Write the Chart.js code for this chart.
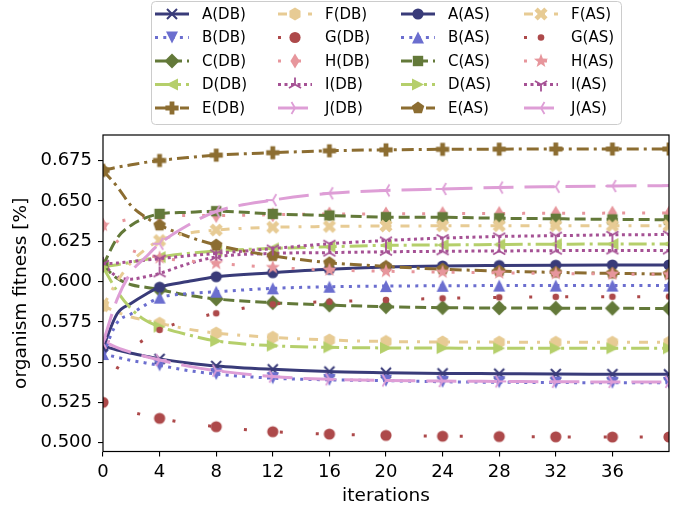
<!DOCTYPE html>
<html><head><meta charset="utf-8">
<script src="https://cdn.jsdelivr.net/npm/chart.js@4"></script>
<style>html,body{margin:0;padding:0;background:#fff}</style>
</head><body>
<canvas id="c" width="694" height="510" style="width:694px;height:510px;display:block"></canvas>
<script>
// ---- data ----
const iterations = [0, 1, 2, 3, 4, 6, 8, 12, 16, 20, 24, 28, 32, 36, 40];
const xTickValues = [0, 4, 8, 12, 16, 20, 24, 28, 32, 36];
const yTickValues = [0.500, 0.525, 0.550, 0.575, 0.600, 0.625, 0.650, 0.675];

const A_DB = [0.560, 0.5575, 0.5555, 0.5537, 0.552, 0.5495, 0.5476, 0.5455, 0.5441, 0.5434, 0.543, 0.5428, 0.5426, 0.5425, 0.5424];
const B_DB = [0.555, 0.553, 0.551, 0.5495, 0.548, 0.5448, 0.5426, 0.540, 0.539, 0.5385, 0.5378, 0.5375, 0.5373, 0.5372, 0.5371];
const C_DB = [0.610, 0.602, 0.598, 0.5965, 0.595, 0.5915, 0.5892, 0.5869, 0.5854, 0.5844, 0.5838, 0.5836, 0.5835, 0.5834, 0.5833];
const D_DB = [0.609, 0.6105, 0.612, 0.6137, 0.6152, 0.6175, 0.619, 0.6206, 0.6216, 0.6225, 0.6227, 0.623, 0.6232, 0.6233, 0.6234];
const E_DB = [0.669, 0.671, 0.6725, 0.674, 0.6752, 0.677, 0.6785, 0.680, 0.6812, 0.6818, 0.6821, 0.6822, 0.6823, 0.6823, 0.6823];
const F_DB = [0.585, 0.581, 0.578, 0.576, 0.5741, 0.5705, 0.568, 0.5654, 0.5637, 0.5628, 0.5625, 0.5624, 0.5623, 0.5623, 0.5623];
const G_DB = [0.525, 0.5215, 0.519, 0.517, 0.5151, 0.512, 0.5099, 0.5068, 0.5053, 0.5045, 0.504, 0.5038, 0.5036, 0.5035, 0.5035];
const H_DB = [0.635, 0.637, 0.639, 0.640, 0.6405, 0.641, 0.641, 0.6415, 0.642, 0.642, 0.6422, 0.6423, 0.6424, 0.6425, 0.6425];
const I_DB = [0.611, 0.603, 0.6015, 0.603, 0.6051, 0.611, 0.6153, 0.6175, 0.618, 0.6185, 0.6188, 0.619, 0.6192, 0.6193, 0.6193];
const J_DB = [0.563, 0.559, 0.556, 0.5535, 0.5513, 0.5475, 0.5447, 0.541, 0.5393, 0.5386, 0.5382, 0.538, 0.5378, 0.5377, 0.5377];

const A_AS = [0.559, 0.580, 0.5865, 0.592, 0.5965, 0.600, 0.603, 0.6055, 0.6076, 0.609, 0.6097, 0.610, 0.6102, 0.6103, 0.6103];
const B_AS = [0.555, 0.5745, 0.580, 0.5855, 0.590, 0.5925, 0.5937, 0.5958, 0.5968, 0.5972, 0.5974, 0.5975, 0.5975, 0.5975, 0.5975];
const C_AS = [0.610, 0.627, 0.635, 0.6395, 0.642, 0.643, 0.6437, 0.642, 0.641, 0.640, 0.6399, 0.6393, 0.639, 0.6386, 0.6384];
const D_AS = [0.609, 0.594, 0.583, 0.576, 0.572, 0.567, 0.5631, 0.5602, 0.5592, 0.5588, 0.5587, 0.5586, 0.5586, 0.5586, 0.5586];
const E_AS = [0.669, 0.659, 0.647, 0.640, 0.635, 0.628, 0.6227, 0.616, 0.6117, 0.6094, 0.6077, 0.6065, 0.6057, 0.6051, 0.6046];
const F_AS = [0.585, 0.600, 0.612, 0.620, 0.6255, 0.630, 0.632, 0.6337, 0.6342, 0.6345, 0.6346, 0.6347, 0.6347, 0.6347, 0.6347];
const G_AS = [0.525, 0.546, 0.558, 0.5645, 0.570, 0.576, 0.5803, 0.5859, 0.5875, 0.5886, 0.5896, 0.5902, 0.5905, 0.5906, 0.5907];
const H_AS = [0.635, 0.625, 0.6195, 0.617, 0.6148, 0.6128, 0.6113, 0.6088, 0.6072, 0.6064, 0.6059, 0.6054, 0.605, 0.6047, 0.6044];
const I_AS = [0.611, 0.6115, 0.6125, 0.6133, 0.6142, 0.616, 0.6175, 0.6205, 0.6235, 0.6255, 0.627, 0.628, 0.6285, 0.629, 0.6292];
const J_AS = [0.562, 0.589, 0.606, 0.615, 0.6235, 0.635, 0.6435, 0.6506, 0.6548, 0.6566, 0.6575, 0.6584, 0.6589, 0.6593, 0.6596];

// ---- styles ----
const COL = {A:'#393b79', B:'#6b6ecf', C:'#637939', D:'#b5cf6b', E:'#8c6d31',
             F:'#e7cb94', G:'#ad494a', H:'#e7969c', I:'#a55194', J:'#de9ed6'};
const DASH = {A:[], B:[3,5.3], C:[11,5], D:[18,5,3,5], E:[12,5,3,5],
              F:[9,9,3,9], G:[3,33], H:[3,17], I:[3,3.5], J:[30,11]};

const series = [
  {label:'A(DB)', v:A_DB, k:'A', m:'x'}, {label:'B(DB)', v:B_DB, k:'B', m:'v'},
  {label:'C(DB)', v:C_DB, k:'C', m:'D'}, {label:'D(DB)', v:D_DB, k:'D', m:'<'},
  {label:'E(DB)', v:E_DB, k:'E', m:'P'}, {label:'F(DB)', v:F_DB, k:'F', m:'h'},
  {label:'G(DB)', v:G_DB, k:'G', m:'o'}, {label:'H(DB)', v:H_DB, k:'H', m:'d'},
  {label:'I(DB)', v:I_DB, k:'I', m:'2'}, {label:'J(DB)', v:J_DB, k:'J', m:'4'},
  {label:'A(AS)', v:A_AS, k:'A', m:'o'}, {label:'B(AS)', v:B_AS, k:'B', m:'^'},
  {label:'C(AS)', v:C_AS, k:'C', m:'s'}, {label:'D(AS)', v:D_AS, k:'D', m:'>'},
  {label:'E(AS)', v:E_AS, k:'E', m:'p'}, {label:'F(AS)', v:F_AS, k:'F', m:'X'},
  {label:'G(AS)', v:G_AS, k:'G', m:'.'}, {label:'H(AS)', v:H_AS, k:'H', m:'*'},
  {label:'I(AS)', v:I_AS, k:'I', m:'1'}, {label:'J(AS)', v:J_AS, k:'J', m:'3'}
];

function drawMarker(c, type, x, y, color) {
  c.save();
  c.translate(x, y);
  c.fillStyle = color; c.strokeStyle = color; c.setLineDash([]);
  const poly = pts => { c.beginPath(); pts.forEach((p, k) => k ? c.lineTo(p[0], p[1]) : c.moveTo(p[0], p[1])); c.closePath(); c.fill(); };
  const reg = (n, r) => { const pts = []; for (let k = 0; k < n; k++) { const a = k * 2 * Math.PI / n; pts.push([r * Math.sin(a), -r * Math.cos(a)]); } poly(pts); };
  const prongs = (angles, r) => { c.lineWidth = 1.8; c.lineCap = 'butt'; c.beginPath(); angles.forEach(a => { c.moveTo(0, 0); c.lineTo(r * Math.cos(a), r * Math.sin(a)); }); c.stroke(); };
  const plus = (w, L, rot) => {
    const base = [[-w,-L],[w,-L],[w,-w],[L,-w],[L,w],[w,w],[w,L],[-w,L],[-w,w],[-L,w],[-L,-w],[-w,-w]];
    const cs = Math.cos(rot), sn = Math.sin(rot);
    poly(base.map(p => [p[0]*cs - p[1]*sn, p[0]*sn + p[1]*cs]));
  };
  const P = Math.PI;
  switch (type) {
    case 'x': c.lineWidth = 2; c.beginPath(); c.moveTo(-5,-5); c.lineTo(5,5); c.moveTo(-5,5); c.lineTo(5,-5); c.stroke(); break;
    case 'o': c.beginPath(); c.arc(0, 0, 5.6, 0, 2*P); c.fill(); break;
    case '.': c.beginPath(); c.arc(0, 0, 3.3, 0, 2*P); c.fill(); break;
    case '^': poly([[0,-6],[-6,6],[6,6]]); break;
    case 'v': poly([[0,6],[-6,-6],[6,-6]]); break;
    case '<': poly([[-6,0],[6,-6],[6,6]]); break;
    case '>': poly([[6,0],[-6,-6],[-6,6]]); break;
    case 's': c.fillRect(-5.2, -5.2, 10.4, 10.4); break;
    case 'D': poly([[0,-7.5],[7.5,0],[0,7.5],[-7.5,0]]); break;
    case 'd': poly([[0,-7.5],[4.6,0],[0,7.5],[-4.6,0]]); break;
    case 'P': plus(2.4, 6.6, 0); break;
    case 'X': plus(2.3, 7, P/4); break;
    case 'p': reg(5, 6.6); break;
    case 'h': reg(6, 6.4); break;
    case '*': { const pts = []; for (let k = 0; k < 10; k++) { const r = k % 2 ? 3.1 : 7.4; const a = k * P / 5; pts.push([r*Math.sin(a), -r*Math.cos(a)]); } poly(pts); break; }
    case '1': prongs([P/2, 7*P/6, -P/6], 7); break;
    case '2': prongs([-P/2, 5*P/6, P/6], 7); break;
    case '3': prongs([P, -P/3, P/3], 7); break;
    case '4': prongs([0, -2*P/3, 2*P/3], 7); break;
  }
  c.restore();
}

function markerCanvas(type, color) {
  const cv = document.createElement('canvas');
  cv.width = 26; cv.height = 26;
  drawMarker(cv.getContext('2d'), type, 13, 13, color);
  return cv;
}

const datasets = series.map((s, i) => ({
  label: s.label,
  data: iterations.map((it, k) => ({x: it, y: s.v[k]})),
  borderColor: COL[s.k],
  backgroundColor: COL[s.k],
  borderWidth: 3,
  borderDash: DASH[s.k],
  borderCapStyle: 'butt',
  pointStyle: markerCanvas(s.m, COL[s.k]),
  pointRadius: ctx => (ctx.raw && ctx.raw.x % 4 === 0) ? 6 : 0,
  pointHoverRadius: 0,
  cubicInterpolationMode: 'monotone',
  fill: false,
  clip: 0,
  order: -i
}));

const FONT = 'DejaVu Sans';

const framePlugin = {
  id: 'frameAndLegend',
  afterDatasetsDraw(chart) {
    const {ctx, chartArea: a} = chart;
    ctx.save();
    ctx.strokeStyle = '#000'; ctx.lineWidth = 1.2; ctx.setLineDash([]);
    ctx.strokeRect(a.left, a.top, a.right - a.left, a.bottom - a.top);
    ctx.restore();
  },
  afterDraw(chart) {
    const ctx = chart.ctx;
    ctx.save();
    // legend box
    ctx.beginPath();
    ctx.roundRect(151.5, 1.5, 470, 123, 4);
    ctx.fillStyle = 'rgba(255,255,255,0.8)'; ctx.fill();
    ctx.strokeStyle = '#cccccc'; ctx.lineWidth = 1; ctx.stroke();
    const textX = [202, 325, 448, 571];
    const rowY = [14, 37.5, 61, 84.5, 108];
    ctx.font = '15px "' + FONT + '"';
    ctx.textBaseline = 'middle'; ctx.textAlign = 'left';
    series.forEach((s, i) => {
      const col = Math.floor(i / 5), row = i % 5;
      const x0 = textX[col] - 47, y = rowY[row];
      ctx.save();
      ctx.strokeStyle = COL[s.k]; ctx.lineWidth = 3; ctx.lineCap = 'butt';
      ctx.setLineDash(DASH[s.k]);
      ctx.beginPath(); ctx.moveTo(x0, y); ctx.lineTo(x0 + 34, y); ctx.stroke();
      ctx.restore();
      drawMarker(ctx, s.m, x0 + 17, y, COL[s.k]);
      ctx.fillStyle = '#000';
      ctx.fillText(s.label, textX[col], y + 1);
    });
    ctx.restore();
  }
};

Chart.defaults.font.family = FONT;

new Chart(document.getElementById('c'), {
  type: 'line',
  data: {datasets},
  options: {
    responsive: false,
    animation: false,
    events: [],
    devicePixelRatio: 1,
    layout: {padding: {top: 135, right: 25, bottom: 0, left: 0}},
    plugins: {legend: {display: false}, tooltip: {enabled: false}},
    scales: {
      x: {
        type: 'linear', min: 0, max: 40,
        afterBuildTicks: sc => { sc.ticks = xTickValues.map(v => ({value: v})); },
        afterFit: sc => { sc.height = 58.5; },
        ticks: {font: {size: 18}, color: '#000', padding: 5, maxRotation: 0, autoSkip: false,
                callback: v => String(v)},
        grid: {drawOnChartArea: false, drawTicks: true, tickLength: 5, color: '#000', lineWidth: 1.1},
        border: {display: false},
        title: {display: true, text: 'iterations', color: '#000', font: {size: 18.5}, padding: {top: 0, bottom: 3}}
      },
      y: {
        type: 'linear', min: 0.4945, max: 0.691,
        afterBuildTicks: sc => { sc.ticks = yTickValues.map(v => ({value: v})); },
        afterFit: sc => { sc.width = 103; },
        ticks: {font: {size: 18}, color: '#000', padding: 6, autoSkip: false,
                callback: v => Number(v).toFixed(3)},
        grid: {drawOnChartArea: false, drawTicks: true, tickLength: 5, color: '#000', lineWidth: 1.1},
        border: {display: false},
        title: {display: true, text: 'organism fitness [%]', color: '#000', font: {size: 18.5}, padding: {top: 10, bottom: 0}}
      }
    }
  },
  plugins: [framePlugin]
});
</script>
</body></html>
